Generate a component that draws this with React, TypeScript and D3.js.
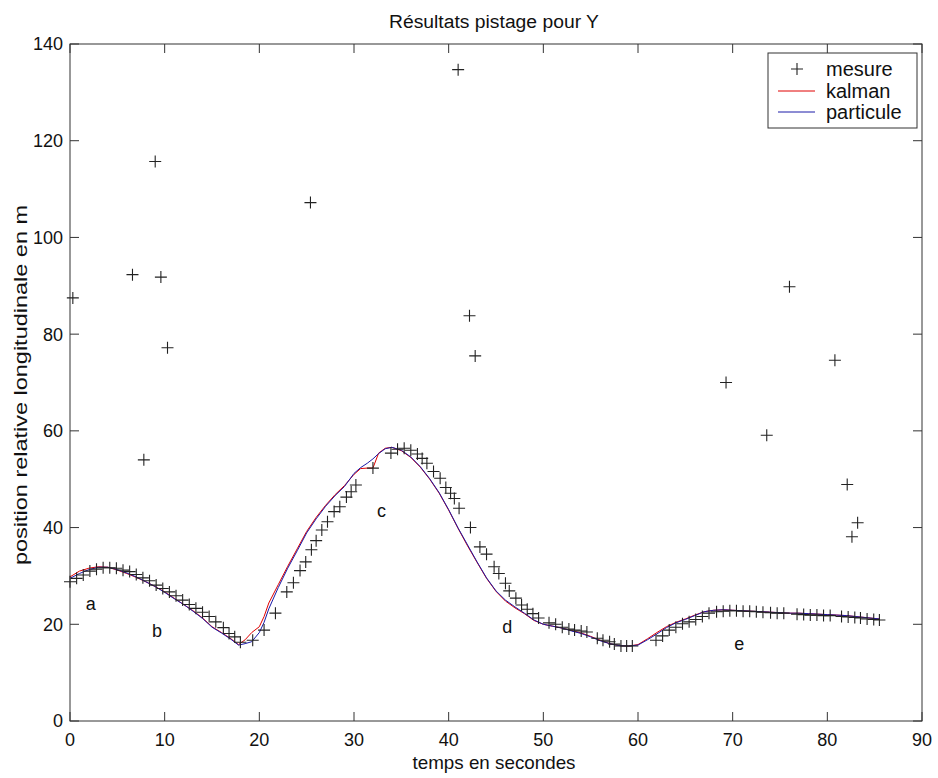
import React from "react";
import * as d3 from "d3";

const xTicks = [0, 10, 20, 30, 40, 50, 60, 70, 80, 90];
const yTicks = [0, 20, 40, 60, 80, 100, 120, 140];

const measureT = [
  0.0, 0.7, 1.4, 2.1, 2.8, 3.5, 4.2, 4.9, 5.6, 6.3, 7.0, 7.7, 8.4, 9.1, 9.8, 10.5, 11.2, 11.9, 12.6, 13.3,
  14.0, 14.7, 15.4, 16.2, 16.8, 17.4, 18.0, 19.3, 20.5, 21.7, 22.9, 23.6, 24.3, 24.9, 25.5, 26.0, 26.6, 27.2,
  27.9, 28.5, 29.2, 29.7, 30.2, 32.0, 33.9, 34.6, 35.3, 36.0, 36.7, 37.2, 37.7, 38.4, 39.1, 39.7, 40.2, 40.6,
  41.1, 42.3, 43.3, 44.0, 44.8, 45.3, 46.0, 46.4, 47.1, 47.7, 48.3, 48.9, 49.5, 50.6, 51.3, 52.0, 52.7, 53.3,
  54.0, 54.6, 55.7, 56.3, 57.0, 57.5, 58.2, 58.8, 59.4, 61.9, 62.6, 63.3, 64.0, 64.7, 65.4, 66.1, 66.8, 67.5,
  68.3, 69.0, 69.7, 70.4, 71.1, 71.8, 72.5, 73.2, 74.0, 74.7, 75.4, 76.8, 77.5, 78.2, 78.9, 79.6, 80.3, 81.5,
  82.2, 82.9, 83.5, 84.2, 84.9, 85.5,
];
const measureV = [
  28.8, 29.5, 30.2, 31.0, 31.4, 31.7, 31.7, 31.6, 31.2, 30.9, 30.3, 29.6, 29.0, 28.1, 27.4, 26.7, 25.9, 25.0, 24.1, 23.3,
  22.5, 21.6, 20.5, 19.3, 18.1, 17.4, 16.3, 16.7, 18.8, 22.3, 26.7, 28.6, 31.1, 32.9, 35.4, 37.3, 39.5, 41.2,
  43.3, 44.3, 46.3, 47.4, 48.8, 52.3, 55.4, 56.2, 56.4, 56.0, 55.2, 54.3, 53.3, 51.6, 50.2, 48.3, 47.1, 46.0,
  44.0, 40.0, 36.0, 34.5, 31.9, 30.5, 28.5, 26.9, 25.4, 24.0, 23.1, 22.2, 21.3, 20.3, 20.0, 19.4, 19.0, 18.8,
  18.6, 18.4, 17.1, 16.7, 16.4, 15.9, 15.5, 15.5, 15.5, 16.7, 17.6, 18.8, 19.4, 20.1, 20.5, 21.0, 21.6, 22.3,
  22.6, 22.7, 22.8, 22.8, 22.7, 22.7, 22.6, 22.5, 22.4, 22.3, 22.3, 22.1, 22.0, 21.9, 21.9, 21.8, 21.8, 21.6,
  21.5, 21.4, 21.3, 21.1, 21.0, 20.9,
];

const outlierT = [0.3, 6.6, 7.8, 9.0, 9.6, 10.3, 25.4, 41.0, 42.2, 42.8, 69.3, 73.6, 76.0, 80.8, 82.1, 82.6, 83.2];
const outlierV = [87.5, 92.3, 54.0, 115.7, 91.8, 77.2, 107.2, 134.7, 83.8, 75.5, 70.0, 59.1, 89.8, 74.6, 48.9, 38.1, 41.0];

const lineT = [
  0, 1, 2, 3, 4, 5, 6, 7, 8, 9, 10, 11, 12, 13, 14, 15, 16, 17, 17.8, 18.5, 19.2, 20, 20.5, 21, 22, 23, 24, 25, 26,
  27, 28, 29, 30, 30.7, 31.4, 32, 32.6, 33.3, 34, 35, 36, 37, 38, 39, 40, 41, 42, 43, 44, 45, 46, 47, 48, 49, 50,
  51, 52, 53, 54, 55, 56, 57, 58, 59, 60, 61, 62, 63, 64, 65, 66, 67, 68, 69, 70, 71, 72, 73, 74, 75, 76, 77, 78,
  79, 80, 81, 82, 83, 84, 85.5,
];
const particuleV = [
  29.5, 30.5, 31.3, 31.8, 31.8, 31.3, 30.6, 29.8, 28.8, 27.8, 26.6, 25.3, 24.1, 22.7, 21.2, 19.4, 18.2, 16.9, 15.7,
  16.0, 16.4, 18.3, 20.4, 23.2, 27.6, 31.6, 35.2, 38.9, 41.8, 44.4, 46.6, 48.5, 51.2, 52.4, 53.3, 54.2, 55.3, 56.3,
  56.6, 56.0, 54.6, 52.6, 50.1, 47.2, 43.7, 39.9, 36.4, 32.9, 29.6, 26.9, 25.0, 23.6, 22.3, 20.9, 20.0, 19.6, 19.2,
  18.6, 18.1, 17.4, 16.6, 16.0, 15.6, 15.5, 15.7, 16.8, 18.0, 19.3, 20.3, 21.0, 21.8, 22.6, 22.9, 23.0, 22.9, 22.8,
  22.7, 22.6, 22.5, 22.4, 22.3, 22.3, 22.2, 22.1, 22.0, 21.9, 21.8, 21.6, 21.4, 21.1,
];
const kalmanV = [
  29.8, 31.0, 31.6, 31.9, 31.8, 31.2, 30.5, 29.7, 28.8, 27.8, 26.7, 25.4, 24.1, 22.8, 21.3, 19.5, 18.3, 17.0, 15.8,
  16.8, 18.3, 19.5, 21.6, 24.4, 28.2, 32.0, 35.6, 39.2, 42.1, 44.6, 46.8, 48.7, 51.0, 52.2, 52.3, 52.3, 55.4, 56.4,
  56.6, 55.9, 54.5, 52.5, 50.0, 47.1, 43.6, 39.8, 36.2, 32.8, 29.5, 26.8, 24.8, 23.4, 22.2, 20.8, 20.0, 19.6, 19.2,
  18.7, 18.2, 17.5, 16.7, 16.0, 15.6, 15.5, 15.8, 17.0, 18.3, 19.5, 20.4, 21.1, 21.9, 22.6, 22.9, 23.0, 22.9, 22.8,
  22.7, 22.6, 22.5, 22.4, 22.3, 22.3, 22.2, 22.1, 22.0, 21.9, 21.8, 21.6, 21.4, 21.1,
];

const annotLabels = ["a", "b", "c", "d", "e"];
const annotT = [2.2, 9.2, 32.9, 46.2, 70.7];
const annotV = [24.2, 18.6, 43.4, 19.6, 15.9];

const legendLabels = ["mesure", "kalman", "particule"];

export default function App() {
  const W = 938, H = 778;
  const left = 70, right = 922, top = 44, bottom = 721;
  const x = d3.scaleLinear().domain([0, 90]).range([left, right]);
  const y = d3.scaleLinear().domain([0, 140]).range([bottom, top]);
  const font = "'Liberation Sans', Arial, sans-serif";
  const axisColor = "#333";
  const tickLen = 9;

  const line = (vals: number[]) =>
    d3
      .line<number>()
      .x((_, i) => x(lineT[i]))
      .y((v) => y(v))(vals) || "";

  const plus = (cx: number, cy: number, key: string, color = "#222") => (
    <path key={key} d={`M${cx - 6},${cy}H${cx + 6}M${cx},${cy - 6}V${cy + 6}`} stroke={color} strokeWidth={1.1} fill="none" />
  );

  const legX = 768, legY = 53, legW = 149, legH = 75;
  const rowY = [69, 91, 112];

  return (
    <svg width={W} height={H} style={{ position: "absolute", left: 0, top: 0, background: "#fff" }} fontFamily={font}>
      <rect x={0} y={0} width={W} height={H} fill="#fff" />
      {/* axes box */}
      <rect x={left} y={top} width={right - left} height={bottom - top} fill="none" stroke={axisColor} strokeWidth={1} />
      {xTicks.map((t) => (
        <g key={"xt" + t}>
          <line x1={x(t)} x2={x(t)} y1={bottom} y2={bottom - tickLen} stroke={axisColor} />
          <line x1={x(t)} x2={x(t)} y1={top} y2={top + tickLen} stroke={axisColor} />
          <text x={x(t)} y={746} fontSize={18} textAnchor="middle" fill="#111">
            {t}
          </text>
        </g>
      ))}
      {yTicks.map((t) => (
        <g key={"yt" + t}>
          <line x1={left} x2={left + tickLen} y1={y(t)} y2={y(t)} stroke={axisColor} />
          <line x1={right} x2={right - tickLen} y1={y(t)} y2={y(t)} stroke={axisColor} />
          <text x={63} y={y(t)} dy="0.36em" fontSize={18} textAnchor="end" fill="#111">
            {t}
          </text>
        </g>
      ))}

      {/* lines */}
      <path d={line(kalmanV)} fill="none" stroke="#e00000" strokeWidth={1} />
      <path d={line(particuleV)} fill="none" stroke="#1a1aa8" strokeWidth={1} />

      {/* measurements */}
      {measureT.map((t, i) => plus(x(t), y(measureV[i]), "m" + i))}
      {outlierT.map((t, i) => plus(x(t), y(outlierV[i]), "o" + i))}

      {/* annotations */}
      {annotLabels.map((l, i) => (
        <text key={"an" + l} x={x(annotT[i])} y={y(annotV[i])} dy="0.35em" fontSize={18} textAnchor="middle" fill="#111">
          {l}
        </text>
      ))}

      {/* title and labels */}
      <text x={494} y={28} fontSize={18} textAnchor="middle" fill="#111" textLength={210} lengthAdjust="spacingAndGlyphs">
        Résultats pistage pour Y
      </text>
      <text x={494} y={769} fontSize={19} textAnchor="middle" fill="#111" textLength={163} lengthAdjust="spacingAndGlyphs">
        temps en secondes
      </text>
      <text
        transform={`translate(27,385) rotate(-90)`}
        fontSize={19}
        textAnchor="middle"
        fill="#111"
        textLength={360}
        lengthAdjust="spacingAndGlyphs"
      >
        position relative longitudinale en m
      </text>

      {/* legend */}
      <rect x={legX} y={legY} width={legW} height={legH} fill="#fff" stroke={axisColor} />
      {plus(797, rowY[0], "legm")}
      <line x1={778} x2={815} y1={rowY[1]} y2={rowY[1]} stroke="#e00000" />
      <line x1={778} x2={815} y1={rowY[2]} y2={rowY[2]} stroke="#1a1aa8" />
      {legendLabels.map((l, i) => (
        <text key={"lg" + l} x={826} y={rowY[i]} dy="0.35em" fontSize={20} fill="#111">
          {l}
        </text>
      ))}
    </svg>
  );
}
